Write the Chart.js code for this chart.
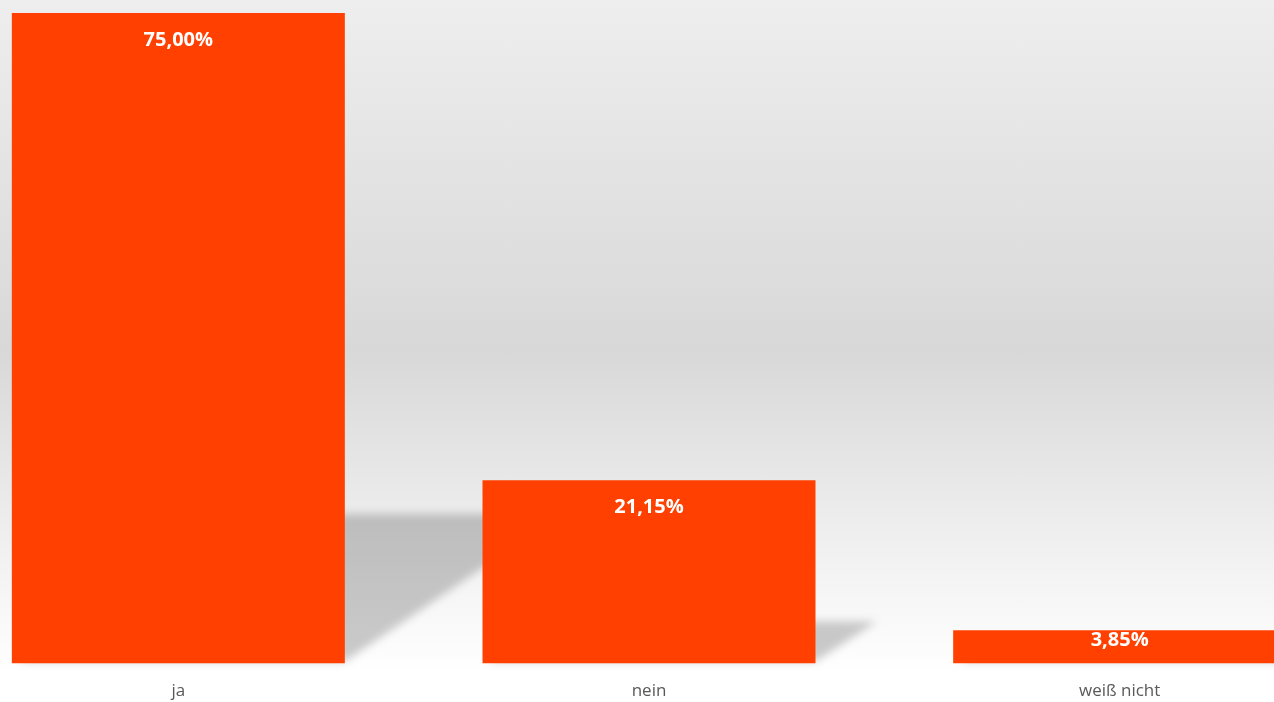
<!DOCTYPE html>
<html>
<head>
<meta charset="utf-8">
<script src="https://cdn.jsdelivr.net/npm/chart.js@4"></script>
<style>
  html, body {
    margin: 0;
    width: 1274px;
    height: 702px;
    overflow: hidden;
    background: linear-gradient(to bottom, #eeeeee 0%, #d8d8d8 50%, #f2f2f2 80%, #ffffff 96%);
  }
  /* the plot is wider than the window, the right bar runs off the edge */
  #wrap {
    position: absolute;
    left: -57px;
    top: 0;
    width: 1412px;
    height: 721px;
  }
</style>
</head>
<body>
<div id="wrap"><canvas id="js_surveyChart"></canvas></div>
<script>
// chart data
const categories = ['ja', 'nein', 'weiß nicht'];
const shares = [75.00, 21.15, 3.85];

const barColor = '#ff4000';

// soft slanted shadow behind each bar
const barShadow = {
  id: 'barShadow',
  beforeDatasetsDraw: (chart) => {
    const { ctx } = chart;
    ctx.save();
    ctx.filter = 'blur(4px)';
    ctx.fillStyle = 'rgba(0, 0, 0, 0.2)';
    chart.getDatasetMeta(0).data.forEach((bar) => {
      const left = bar.x - bar.width / 2 + 6;
      const right = bar.x + bar.width / 2;
      const h = (bar.base - bar.y) * 0.23;
      const dx = h / 0.69;
      ctx.beginPath();
      ctx.moveTo(left, bar.base - 2);
      ctx.lineTo(right, bar.base - 2);
      ctx.lineTo(right + dx, bar.base - h);
      ctx.lineTo(left + dx, bar.base - h);
      ctx.closePath();
      ctx.fill();
    });
    ctx.restore();
  },
};

// white value labels inside the top of the bars
const valueLabels = {
  id: 'valueLabels',
  afterDatasetsDraw: (chart) => {
    const { ctx } = chart;
    ctx.save();
    ctx.font = 'bold 20px "Open Sans"';
    ctx.fillStyle = '#ffffff';
    ctx.textAlign = 'center';
    ctx.textBaseline = 'middle';
    chart.getDatasetMeta(0).data.forEach((bar, i) => {
      const height = bar.base - bar.y;
      const y = bar.y + Math.min(27, height / 2 - 7);
      ctx.fillText(shares[i].toFixed(2).replace('.', ',') + '%', bar.x, y);
    });
    ctx.restore();
  },
};

document.addEventListener('DOMContentLoaded', () => {
  const ctx = document.getElementById('js_surveyChart');

  new Chart(ctx, {
    type: 'bar',
    data: {
      labels: categories,
      datasets: [{
        data: shares,
        backgroundColor: barColor,
        borderWidth: 0,
        categoryPercentage: 1,
        barPercentage: 0.7075,
      }],
    },
    options: {
      responsive: true,
      maintainAspectRatio: false,
      animation: false,
      layout: { padding: { top: 13, bottom: 3, left: 0, right: 0 } },
      plugins: {
        legend: { display: false },
        tooltip: { enabled: false },
      },
      scales: {
        x: {
          grid: { display: false, drawTicks: false },
          border: { display: false },
          ticks: {
            padding: 17,
            color: '#595959',
            font: { family: '"Open Sans"', size: 17 },
          },
        },
        y: {
          display: false,
          min: 0,
          max: 75,
        },
      },
    },
    plugins: [barShadow, valueLabels],
  });
});
</script>
</body>
</html>
